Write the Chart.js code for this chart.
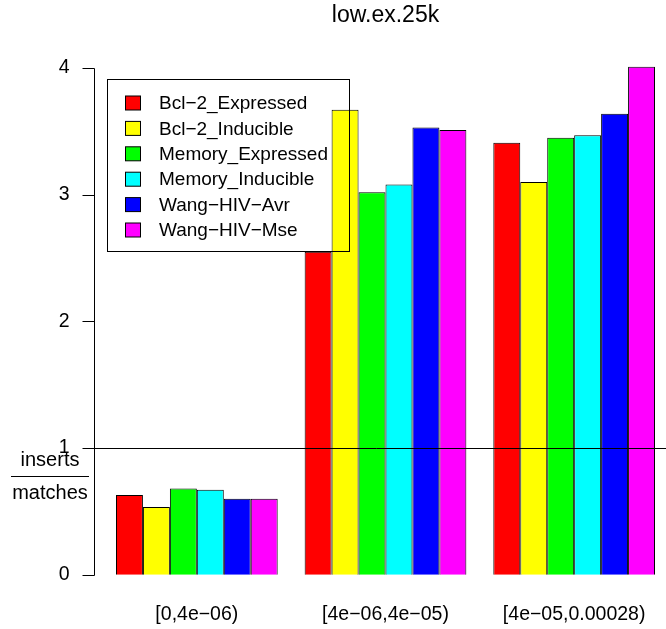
<!DOCTYPE html>
<html>
<head>
<meta charset="utf-8">
<script src="https://cdn.jsdelivr.net/npm/chart.js@4/dist/chart.umd.min.js"></script>
<style>
  html, body { margin: 0; padding: 0; background: #fff; overflow: hidden; }
  #wrap { width: 670px; height: 629px; }
</style>
</head>
<body>
<div id="wrap"><canvas id="chart" width="670" height="629"></canvas></div>
<script>

/********** DATA **********/

const categories = ['[0,4e\u221206)', '[4e\u221206,4e\u221205)', '[4e\u221205,0.00028)']
const seriesNames = ['Bcl\u22122_Expressed', 'Bcl\u22122_Inducible', 'Memory_Expressed',
  'Memory_Inducible', 'Wang\u2212HIV\u2212Avr', 'Wang\u2212HIV\u2212Mse']
const bcl2Expressed = [0.63, 2.55, 3.41]
const bcl2Inducible = [0.535, 3.67, 3.10]
const memoryExpressed = [0.68, 3.02, 3.45]
const memoryInducible = [0.67, 3.08, 3.47]
const wangAvr = [0.60, 3.53, 3.64]
const wangMse = [0.60, 3.51, 4.01]
const yTicks = [0, 1, 2, 3, 4]
const title = 'low.ex.25k'
const refLine = 1

const seriesValues = [bcl2Expressed, bcl2Inducible, memoryExpressed, memoryInducible, wangAvr, wangMse]
const colors = ['#ff0000', '#ffff00', '#00ff00', '#00ffff', '#0000ff', '#ff00ff']

const FONT = '"Liberation Sans", Arial, Helvetica, sans-serif'

/********** EXTRAS: axis line, reference line, ratio label, title, legend **********/

const extras = {
  id: 'extras',
  afterDatasetsDraw: (chart) => {
    const ctx = chart.ctx
    const y = chart.scales.y
    const area = chart.chartArea
    ctx.save()

    // y axis line + ticks (R style, only from first to last tick)
    const ax = 94.5
    ctx.strokeStyle = '#000'
    ctx.lineWidth = 1
    ctx.beginPath()
    ctx.moveTo(ax, Math.round(y.getPixelForValue(yTicks[0])) + 0.5)
    ctx.lineTo(ax, Math.round(y.getPixelForValue(yTicks[yTicks.length - 1])) + 0.5)
    yTicks.forEach((v) => {
      const py = Math.round(y.getPixelForValue(v)) + 0.5
      ctx.moveTo(ax - 12, py)
      ctx.lineTo(ax, py)
    })
    ctx.stroke()

    // horizontal line at 1
    const ly = Math.round(y.getPixelForValue(refLine)) + 0.5
    ctx.beginPath()
    ctx.moveTo(83, ly)
    ctx.lineTo(chart.width, ly)
    ctx.stroke()

    // inserts / matches
    ctx.fillStyle = '#000'
    ctx.font = '20px ' + FONT
    ctx.textAlign = 'center'
    ctx.textBaseline = 'alphabetic'
    ctx.fillText('inserts', 50, 466)
    ctx.fillText('matches', 50, 499)
    ctx.beginPath()
    ctx.moveTo(11, 476.5)
    ctx.lineTo(89, 476.5)
    ctx.stroke()

    // title
    ctx.font = '23px ' + FONT
    ctx.textBaseline = 'middle'
    ctx.fillText(title, (area.left + area.right) / 2, 16)

    // legend (transparent box, drawn over bars)
    ctx.strokeRect(107.5, 79.5, 242, 172)
    ctx.font = '19px ' + FONT
    ctx.textAlign = 'left'
    chart.data.datasets.forEach((ds, i) => {
      const cy = 103 + i * 25.4
      ctx.fillStyle = ds.backgroundColor
      ctx.fillRect(125.5, cy - 7, 15, 14)
      ctx.strokeRect(125.5, cy - 7, 15, 14)
      ctx.fillStyle = '#000'
      ctx.fillText(ds.label, 159, cy + 1)
    })

    ctx.restore()
  }
}

/********** CHART **********/

const datasets = seriesNames.map((name, i) => ({
  label: name,
  data: seriesValues[i],
  backgroundColor: colors[i],
  borderColor: '#000',
  borderWidth: 1,
  categoryPercentage: 6 / 7,
  barPercentage: 1
}))

new Chart(document.getElementById('chart'), {
  type: 'bar',
  data: { labels: categories, datasets: datasets },
  plugins: [extras],
  options: {
    responsive: false,
    animation: false,
    devicePixelRatio: 1,
    layout: { padding: { top: 46.5, right: 1.5, bottom: 0, left: 0 } },
    plugins: {
      legend: { display: false },
      title: { display: false },
      tooltip: { enabled: false }
    },
    scales: {
      x: {
        type: 'category',
        grid: { display: false },
        border: { display: false },
        ticks: { color: '#000', font: { family: FONT, size: 19.5 }, padding: 0, maxRotation: 0 },
        afterFit: (scale) => {
          scale.height = 34
          scale.paddingLeft = 0
          scale.paddingRight = 0
        }
      },
      y: {
        min: -0.16,
        max: 4.17,
        grid: { display: false },
        border: { display: false },
        ticks: { color: '#000', font: { family: FONT, size: 19.5 }, padding: 25 },
        afterBuildTicks: (scale) => { scale.ticks = yTicks.map((v) => ({ value: v })) },
        afterFit: (scale) => {
          scale.width = 102.5
          scale.paddingTop = 0
          scale.paddingBottom = 0
        }
      }
    }
  }
})

</script>
</body>
</html>
